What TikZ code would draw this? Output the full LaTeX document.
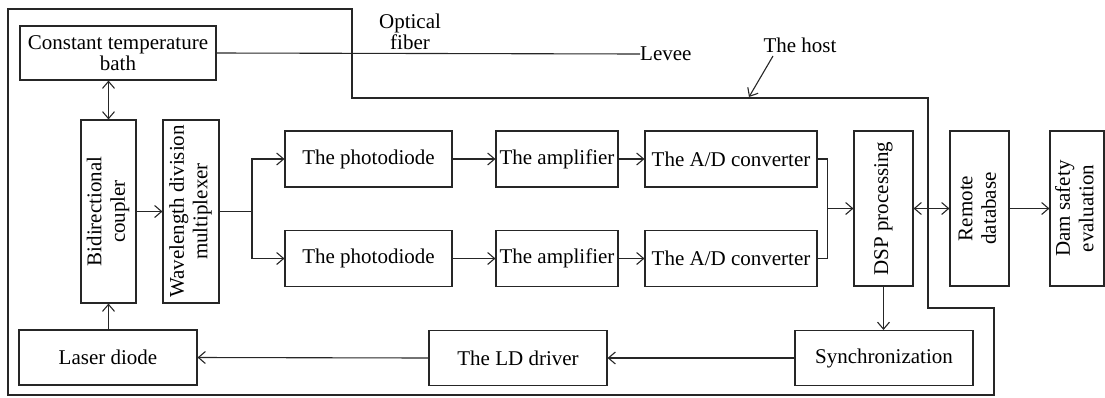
\documentclass[tikz,border=0pt]{standalone}
\usepackage{fontspec}
\setmainfont{Liberation Serif}
\usepackage{graphicx}
\usetikzlibrary{arrows.meta}

\tikzset{
  box/.style={draw, line width=1.1pt, inner sep=0pt, align=center,
    minimum width=#1},
  box/.default=100pt,
  wire/.style={line width=1.1pt},
  arr/.style={wire, -{Straight Barb[length=7pt,width=12pt]}},
  biarr/.style={wire, {Straight Barb[length=7pt,width=12pt]}-{Straight Barb[length=7pt,width=12pt]}},
  lbl/.style={inner sep=0pt, align=center}
}
% two-line label turned to read upwards
\newcommand{\vtext}[1]{\rotatebox{90}{\renewcommand{\arraystretch}{1.12}\begin{tabular}{@{}c@{}}#1\end{tabular}}}

\begin{document}
\begin{tikzpicture}[x=1pt, y=-1pt, font=\fontsize{21}{21}\selectfont, draw=black!85]
\useasboundingbox (0,0) rectangle (1105,397);

% the host computer outline
\draw[wire] (8,9) -- (352,9) -- (352,98) -- (928,98) -- (928,308)
  -- (994,308) -- (994,395) -- (8,395) -- cycle;

% blocks
\node[box=196pt, minimum height=54pt] (bath) at (118,53)
  {Constant temperature\\bath};
\node[box=55pt, minimum height=183pt] (bc) at (108.5,211.5)
  {\vtext{Bidirectional\\coupler}};
\node[box=56pt, minimum height=183pt] (wdm) at (191,211.5)
  {\vtext{Wavelength division\\multiplexer}};

\node[box=167pt, minimum height=56pt] (pd1) at (368.5,159) {The photodiode};
\node[box=167pt, minimum height=56pt] (pd2) at (368.5,258.5) {The photodiode};
\node[box=122pt, minimum height=56pt] (amp1) at (557,159) {The amplifier};
\node[box=122pt, minimum height=56pt] (amp2) at (557,258.5) {The amplifier};
\node[box=172pt, minimum height=56pt] (ad1) at (731,159) {The A/D converter};
\node[box=172pt, minimum height=56pt] (ad2) at (731,258.5) {The A/D converter};

\node[box=59pt, minimum height=155pt] (dsp) at (883.5,208.5)
  {\vtext{DSP processing}};
\node[box=59pt, minimum height=155pt] (rdb) at (979.5,208.5)
  {\vtext{Remote\\database}};
\node[box=54pt, minimum height=155pt] (dam) at (1077,208.5)
  {\vtext{Dam safety\\evaluation}};

\node[box=178pt, minimum height=55pt] (laser) at (108,357.5) {Laser diode};
\node[box=178pt, minimum height=55pt] (ldd) at (518,358) {The LD driver};
\node[box=178pt, minimum height=55pt] (sync) at (884,358) {Synchronization};

% labels
\node[lbl] (fiber) at (410,32) {Optical\\fiber};
\node[lbl, anchor=west] (levee) at (640,54) {Levee};
\node[lbl] (host) at (800,45) {The host};
\coordinate (hosttail) at (773,56);
\coordinate (hosttip) at (749,97);

% fiber to the levee
\draw[wire] (bath.east) -- (levee.west);
\draw[arr] (hosttail) -- (hosttip);

% optical path
\draw[biarr] (bc.north |- bath.south) -- (bc.north);
\draw[arr] (bc.east) -- (wdm.west);
\coordinate (sp) at (252,211.5);
\draw[wire] (wdm.east) -- (sp);
\draw[arr] (sp) |- (pd1.west);
\draw[arr] (sp) |- (pd2.west);

% signal chains
\draw[arr] (pd1.east) -- (amp1.west);
\draw[arr] (amp1.east) -- (ad1.west);
\draw[arr] (pd2.east) -- (amp2.west);
\draw[arr] (amp2.east) -- (ad2.west);

\coordinate (mg) at ([xshift=-26pt]dsp.west);
\draw[wire] (ad1.east) -| (mg);
\draw[wire] (ad2.east) -| (mg);
\draw[arr] (mg) -- (dsp.west);

\draw[biarr] (dsp.east) -- (rdb.west);
\draw[arr] (rdb.east) -- (dam.west);

% feedback loop
\draw[arr] (dsp.south) -- (dsp.south |- sync.north);
\draw[arr] (sync.west) -- (ldd.east);
\draw[arr] (ldd.west) -- (laser.east);
\draw[arr] (laser.north) -- (laser.north -| bc.south) -- (bc.south);
\end{tikzpicture}
\end{document}
